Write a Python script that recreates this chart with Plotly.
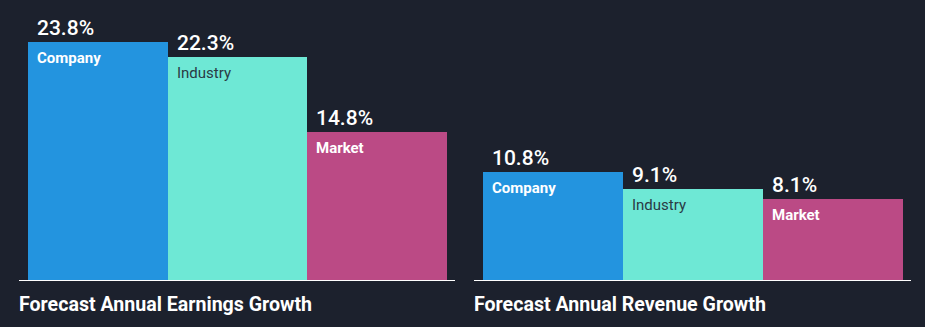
import plotly.graph_objects as go

W, H = 925, 327

categories = ["Company", "Industry", "Market"]
earnings_growth = [23.8, 22.3, 14.8]
revenue_growth = [10.8, 9.1, 8.1]
panel_titles = ["Forecast Annual Earnings Growth", "Forecast Annual Revenue Growth"]

bar_colors = ["#2394df", "#6ee8d5", "#bb4a85"]
label_colors = ["#ffffff", "#2a3a44", "#ffffff"]
label_weights = [700, 400, 700]
bg = "#1c212d"

fig = go.Figure()

panels = [("x", "y", earnings_growth), ("x2", "y2", revenue_growth)]
for xa, ya, vals in panels:
    fig.add_trace(go.Bar(
        x=list(range(len(categories))), y=vals, width=1.0,
        marker=dict(color=bar_colors, line=dict(width=0)),
        xaxis=xa, yaxis=ya, hoverinfo="skip", showlegend=False,
    ))
    for i, (cat, v) in enumerate(zip(categories, vals)):
        # value above the bar
        fig.add_annotation(
            x=i - 0.5, y=v, xref=xa, yref=ya, text=f"{v}%",
            showarrow=False, xanchor="left", yanchor="bottom",
            xshift=7, yshift=0,
            font=dict(family="Roboto", size=21, color="#ffffff", weight=500),
        )
        # category name inside the bar
        fig.add_annotation(
            x=i - 0.5, y=v, xref=xa, yref=ya, text=cat,
            showarrow=False, xanchor="left", yanchor="top",
            xshift=7, yshift=-5,
            font=dict(family="Roboto", size=15, color=label_colors[i], weight=label_weights[i]),
        )

# panel titles below the axis lines
for title, xpix in zip(panel_titles, [19, 474]):
    fig.add_annotation(
        x=xpix / W, y=1 - 304.5 / H, xref="paper", yref="paper", text=title,
        showarrow=False, xanchor="left", yanchor="middle", xshift=-2,
        font=dict(family="Roboto", size=19.6, color="#ffffff", weight=700),
    )

bar_px = 139.67
lpad, rpad = 9 / bar_px, 8 / bar_px
xr = [-0.5 - lpad, 2.5 + rpad]
ydom = [1 - 280 / H, 1.0]

axis_common = dict(range=xr, showgrid=False, zeroline=False, showticklabels=False,
                   showline=True, linecolor="#ffffff", linewidth=1, ticks="", fixedrange=True)
yaxis_common = dict(range=[0, 28], domain=ydom, showgrid=False, zeroline=False,
                    showticklabels=False, showline=False, fixedrange=True)

fig.update_layout(
    width=W, height=H,
    margin=dict(l=0, r=0, t=0, b=0),
    paper_bgcolor=bg, plot_bgcolor=bg,
    bargap=0,
    xaxis=dict(domain=[19 / W, 455 / W], anchor="y", **axis_common),
    xaxis2=dict(domain=[474 / W, 911 / W], anchor="y2", **axis_common),
    yaxis=dict(anchor="x", **yaxis_common),
    yaxis2=dict(anchor="x2", **yaxis_common),
)

fig.write_html("out.html")
